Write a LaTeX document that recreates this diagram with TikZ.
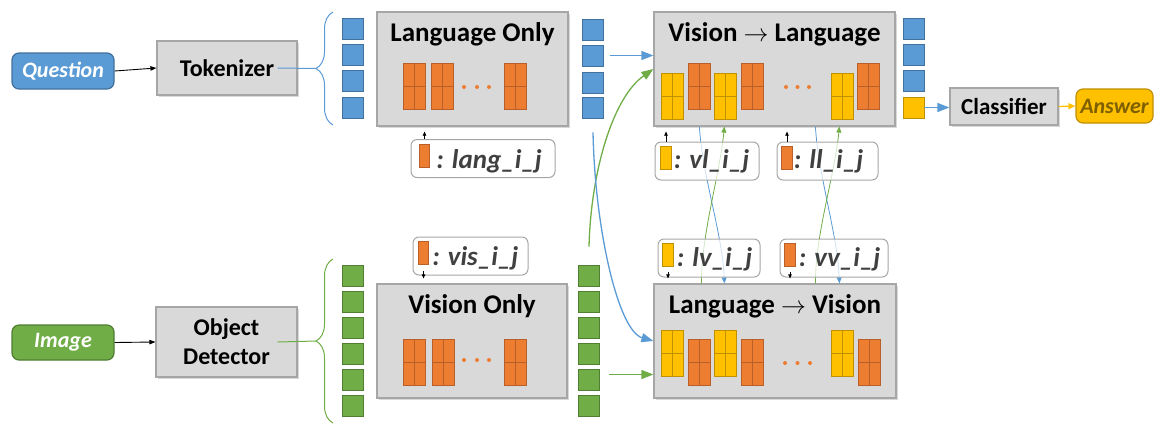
\documentclass[tikz,border=0pt]{standalone}
\usepackage{fontspec}
\setmainfont{Carlito}
\usetikzlibrary{positioning,decorations.pathreplacing,arrows.meta,shadows}

\definecolor{qblue}{HTML}{5B9BD5}
\definecolor{qblueline}{HTML}{41719C}
\definecolor{igreen}{HTML}{70AD47}
\definecolor{igreenline}{HTML}{507E32}
\definecolor{torange}{HTML}{ED7D31}
\definecolor{torangeline}{HTML}{B9602A}
\definecolor{tyellow}{HTML}{FFC000}
\definecolor{tyellowline}{HTML}{BF9000}
\definecolor{boxgray}{HTML}{D9D9D9}
\definecolor{boxline}{HTML}{A6A6A6}
\definecolor{keytext}{HTML}{404040}
\definecolor{anstext}{HTML}{7F6000}

\tikzset{
  stage/.style={draw=boxline, line width=1.2pt, fill=boxgray, minimum height=114pt, inner sep=0pt,
    drop shadow={shadow xshift=1.5pt, shadow yshift=-1.5pt, opacity=.3}},
  stagetitle/.style={font=\bfseries\fontsize{27}{32}\selectfont, anchor=base, inner sep=0pt},
  module/.style={draw=boxline, line width=1.2pt, fill=boxgray, align=center, inner sep=0pt,
    font=\bfseries\fontsize{24}{29}\selectfont,
    drop shadow={shadow xshift=1.5pt, shadow yshift=-1.5pt, opacity=.3}},
  inbox/.style={rounded corners=7pt, line width=1.2pt, minimum width=102pt, minimum height=36pt,
    font=\bfseries\itshape\fontsize{22}{26}\selectfont},
  oblock/.style={draw=torangeline, fill=torange, line width=.8pt, minimum width=22pt, minimum height=46pt, inner sep=0pt,
    path picture={\draw[torangeline, line width=.8pt] (path picture bounding box.north) -- (path picture bounding box.south)
      (path picture bounding box.west) -- (path picture bounding box.east);}},
  yblock/.style={oblock, draw=tyellowline, fill=tyellow,
    path picture={\draw[tyellowline, line width=.8pt] (path picture bounding box.north) -- (path picture bounding box.south)
      (path picture bounding box.west) -- (path picture bounding box.east);}},
  bsq/.style={draw=qblueline, fill=qblue, line width=.8pt, minimum size=21pt, inner sep=0pt},
  gsq/.style={bsq, draw=igreenline, fill=igreen},
  ysq/.style={bsq, draw=tyellowline, fill=tyellow},
  keybox/.style={draw=boxline, fill=white, fill opacity=.7, line width=1pt, rounded corners=6pt, minimum height=38pt, inner sep=0pt},
  okey/.style={draw=torangeline, fill=torange, line width=.8pt, minimum width=10.5pt, minimum height=23pt, inner sep=0pt},
  ykey/.style={okey, draw=tyellowline, fill=tyellow},
  keytxt/.style={font=\bfseries\itshape\fontsize{27}{32}\selectfont, text=keytext, inner sep=0pt, anchor=base west},
  inarrow/.style={-{Triangle[length=6pt,width=4.5pt]}, line width=.9pt},
  keyarrow/.style={-{Triangle[length=4pt,width=3.5pt]}, line width=.7pt},
  bigarrow/.style={-{Triangle[length=12pt,width=9pt]}, line width=1.3pt},
  crossarrow/.style={-{Triangle[length=6pt,width=5pt]}, line width=.8pt},
  bracestyle/.style={decorate, decoration={brace, amplitude=17pt}, line width=1pt}
}

\begin{document}
\begin{tikzpicture}[x=1pt,y=-1pt]
\useasboundingbox (0,0) rectangle (1155,424);

% Language only
\node[stage, minimum width=191pt] (lo) at (472.5,69) {};
\node[stagetitle] (lotitle) at ([yshift=-30pt]lo.north) {Language Only};
\node[oblock] (lob1) at (414,86) {};
\node[oblock] (lob2) at (442.5,86) {};
\node[oblock] (lob3) at (515,86) {};
\fill[torange] (464,87) circle (2pt) (477,87) circle (2pt) (489,87) circle (2pt);

% Vision only
\node[stage, minimum width=190pt] (vo) at (472,341) {};
\node[stagetitle] (votitle) at ([yshift=-30pt]vo.north) {Vision Only};
\node[oblock] (vob1) at (414,362.5) {};
\node[oblock] (vob2) at (443,362.5) {};
\node[oblock] (vob3) at (515,362.5) {};
\fill[torange] (464,360) circle (2pt) (477,360) circle (2pt) (489,360) circle (2pt);

% Vision -> Language
\node[stage, minimum width=241pt] (vl) at (774.5,69) {};
\node[stagetitle] (vltitle) at ([yshift=-30pt]vl.north) {Vision $\rightarrow$ Language};
\node[yblock] (vly1) at (672.5,96) {};
\node[oblock] (vlo1) at (699,86) {};
\node[yblock] (vly2) at (725.5,96) {};
\node[oblock] (vlo2) at (752,86) {};
\node[yblock] (vly3) at (842,96) {};
\node[oblock] (vlo3) at (868.5,86) {};
\fill[torange] (786,87) circle (2pt) (797.5,87) circle (2pt) (809,87) circle (2pt);

% Language -> Vision
\node[stage, minimum width=242pt] (lv) at (775,341) {};
\node[stagetitle] (lvtitle) at ([yshift=-30pt]lv.north) {Language $\rightarrow$ Vision};
\node[yblock] (lvy1) at (672.5,353.5) {};
\node[oblock] (lvo1) at (699,362.5) {};
\node[yblock] (lvy2) at (725,353.5) {};
\node[oblock] (lvo2) at (752,362.5) {};
\node[yblock] (lvy3) at (842.5,353.5) {};
\node[oblock] (lvo3) at (869.5,362.5) {};
\fill[torange] (785,363) circle (2pt) (797.5,363) circle (2pt) (810,363) circle (2pt);

% Inputs, encoders, output
\node[inbox, draw=qblueline, fill=qblue, text=white] (q) at (63,71) {Question};
\node[inbox, draw=igreenline, fill=igreen, text=white, minimum height=35pt] (img) at (63,342.5) {Image};
\node[module, minimum width=140pt, minimum height=54pt] (tok) at (227,68) {Tokenizer};
\node[module, minimum width=141pt, minimum height=70pt] (od) at (226.5,342) {Object\\Detector};
\node[module, minimum width=108pt, minimum height=37pt, font=\bfseries\fontsize{23}{28}\selectfont] (cls) at (1004,106.5) {Classifier};
\node[inbox, draw=tyellowline, fill=tyellow, text=anstext, minimum width=77pt, minimum height=34pt] (ans) at (1114.5,106) {Answer};

\draw[inarrow] (q.east) -- (tok.west);
\draw[inarrow] (img.east) -- (od.west);

% Tokens
\node[bsq] (lq1) at (352.5,28.5) {};
\node[bsq] (lq2) at (352.5,54.5) {};
\node[bsq] (lq3) at (352.5,80.5) {};
\node[bsq] (lq4) at (352.5,107.5) {};
\node[bsq] (loq1) at (593,29.5) {};
\node[bsq] (loq2) at (593,55.5) {};
\node[bsq] (loq3) at (593,82.5) {};
\node[bsq] (loq4) at (593,107.5) {};
\node[bsq] (vlq1) at (913.5,28.5) {};
\node[bsq] (vlq2) at (913.5,54.5) {};
\node[bsq] (vlq3) at (913.5,80.5) {};
\node[ysq] (vlq4) at (913.5,107.5) {};

\node[gsq] (vq1) at (352.5,275.5) {};
\node[gsq] (vq2) at (352.5,301.5) {};
\node[gsq] (vq3) at (352.5,327.5) {};
\node[gsq] (vq4) at (352.5,353.5) {};
\node[gsq] (vq5) at (352.5,379.5) {};
\node[gsq] (vq6) at (352.5,405.5) {};
\node[gsq] (voq1) at (589,275.5) {};
\node[gsq] (voq2) at (589,301.5) {};
\node[gsq] (voq3) at (589,327.5) {};
\node[gsq] (voq4) at (589,353.5) {};
\node[gsq] (voq5) at (589,379.5) {};
\node[gsq] (voq6) at (589,405.5) {};

% Braces
\coordinate (qtip) at (316,68.5);
\coordinate (itip) at (316,341);
\draw[bracestyle, qblue] (333,125) -- (333,12);
\draw[bracestyle, igreen] (333,423) -- (333,259);
\draw[qblue, line width=1pt] ([xshift=-20pt]tok.east) -- (qtip);
\draw[igreen, line width=1pt] ([xshift=-20pt]od.east) -- (itip);

% Stage connections
\coordinate (gstart) at ([xshift=9pt,yshift=5pt]voq5.east);
\draw[bigarrow, qblue] ([xshift=6pt]loq2.east) -- (loq2.east -| vl.west);
\draw[bigarrow, igreen] (gstart) -- (gstart -| lv.west);
\draw[bigarrow, igreen] ([yshift=18pt]voq1.north) .. controls +(2,-77) and +(-40,28) .. (vl.west);
\draw[bigarrow, qblue] ([yshift=-14pt]loq4.south) .. controls +(2,98) and +(-35,-10) .. (lv.west);
\draw[bigarrow, qblue] (vlq4.east) -- (vlq4.east -| cls.west);
\draw[-{Triangle[length=7pt,width=6pt]}, line width=1.3pt, tyellow] (cls.east) -- (ans.west);

% Cross links
\draw[crossarrow, qblue] ([xshift=46pt]vl.south west) .. controls +(3,50) and +(-2,-50) .. ([xshift=71pt]lv.north west);
\draw[crossarrow, igreen] ([xshift=48pt]lv.north west) .. controls +(0,-50) and +(-5,50) .. ([xshift=71pt]vl.south west);
\draw[crossarrow, qblue] ([xshift=162pt]vl.south west) .. controls +(3,50) and +(-2,-50) .. ([xshift=186pt]lv.north west);
\draw[crossarrow, igreen] ([xshift=162pt]lv.north west) .. controls +(0,-50) and +(-5,50) .. ([xshift=186pt]vl.south west);

% Keys
\node[keybox, minimum width=144pt] (klang) at (483,158.5) {};
\node[okey] (mlang) at (424.5,156) {};
\node[keytxt] (tlang) at ([xshift=6pt,yshift=-12pt]mlang.east) {: lang\_i\_j};
\draw[keyarrow] (klang.north -| mlang) -- (lo.south -| mlang) [shorten >=5pt];

\node[keybox, minimum width=115pt] (kvis) at (470.5,256) {};
\node[okey] (mvis) at (423.5,253) {};
\node[keytxt] (tvis) at ([xshift=3pt,yshift=-12pt]mvis.east) {: vis\_i\_j};
\draw[keyarrow, shorten <=6pt, shorten >=5pt] (mvis.south) -- (vo.north -| mvis);

\node[keybox, minimum width=104pt] (kvl) at (707,161) {};
\node[ykey] (mvl) at (666,157.5) {};
\node[keytxt] (tvl) at ([xshift=2pt,yshift=-11pt]mvl.east) {: vl\_i\_j};
\draw[keyarrow, shorten >=5pt] (kvl.north -| mvl) -- (vl.south -| mvl);

\node[keybox, minimum width=101pt] (kll) at (827.5,161) {};
\node[okey] (mll) at (787,157.5) {};
\node[keytxt] (tll) at ([xshift=1pt,yshift=-11pt]mll.east) {: ll\_i\_j};
\draw[keyarrow, shorten >=5pt] (kll.north -| mll) -- (vl.south -| mll);

\node[keybox, minimum width=102pt] (klv) at (709,258) {};
\node[ykey] (mlv) at (668,254.5) {};
\node[keytxt] (tlv) at ([xshift=3pt,yshift=-12pt]mlv.east) {: lv\_i\_j};
\draw[keyarrow, shorten <=6pt, shorten >=5pt] (mlv.south) -- (lv.north -| mlv);

\node[keybox, minimum width=108pt] (kvv) at (834,258) {};
\node[okey] (mvv) at (790,254.5) {};
\node[keytxt] (tvv) at ([xshift=3pt,yshift=-12pt]mvv.east) {: vv\_i\_j};
\draw[keyarrow, shorten <=6pt, shorten >=5pt] (mvv.south) -- (lv.north -| mvv);

\end{tikzpicture}
\end{document}
